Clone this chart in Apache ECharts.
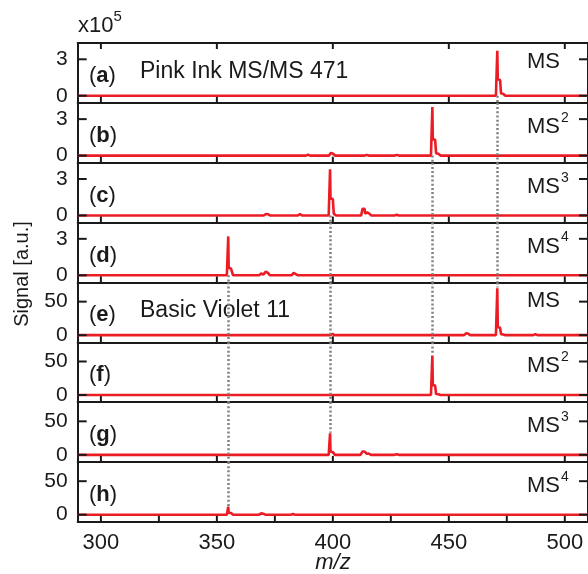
<!DOCTYPE html>
<html>
<head>
<meta charset="utf-8">
<script src="https://cdn.jsdelivr.net/npm/echarts@6/dist/echarts.min.js"></script>
<style>html,body{margin:0;padding:0;background:#fff}#c{width:588px;height:574px;background:#fff}</style>
</head>
<body>
<div id="c"></div>
<script>
// ---- data ----
const xRange = [290, 510];
const xTickValues = [300, 350, 400, 450, 500];
const xTickValuesFine = [300, 325, 350, 375, 400, 425, 450, 475, 500];
const panelLetters = ['a', 'b', 'c', 'd', 'e', 'f', 'g', 'h'];
const msOrders = ['', '2', '3', '4', '', '2', '3', '4'];
const yTicksInk = [0, 3];          // x10^5
const yTicksViolet = [0, 50];
const yRangeInk = [-0.585, 4.34];
const yRangeViolet = [-10.6, 78.7];
const sampleNames = ['Pink Ink MS/MS 471', 'Basic Violet 11'];

// spectra [m/z, signal]
const specA = [[290,0],[470.3,0],[470.9,3.7],[471.1,1.35],[472.1,1.3],[472.5,0.2],[473.5,0.15],[474.4,0],[510,0]];
const specB = [[290,0],[388.4,0],[389.3,0.08],[390.2,0],[398.3,0],[399.2,0.22],[400.1,0.15],[401,0],[413.7,0],[414.6,0.06],[415.5,0],[426.7,0],[427.6,0.06],[428.5,0],[442.3,0],[442.9,4.0],[443.1,1.35],[444.1,1.3],[444.5,0.2],[445.5,0.15],[446.4,0],[510,0]];
const specC = [[290,0],[370.2,0],[371.1,0.12],[372,0.1],[372.9,0],[384.9,0],[385.8,0.12],[386.7,0],[398.2,0],[398.8,3.8],[399,1.4],[400,1.35],[400.4,0.15],[401.4,0],[412.2,0],[412.8,0.55],[413.7,0.55],[413.9,0.15],[414.8,0.25],[415.7,0.15],[416.6,0],[426.6,0],[427.5,0.06],[428.4,0],[510,0]];
const specD = [[290,0],[354.3,0],[354.9,3.2],[355.1,0.6],[356.1,0.55],[357,0],[368.2,0],[369.1,0.15],[370,0.05],[371.1,0.3],[372,0.2],[372.9,0],[382.2,0],[383.1,0.2],[384,0.1],[384.9,0],[510,0]];
const specE = [[290,0],[398.9,0],[399.8,2],[400.7,0],[456.6,0],[457.5,3],[458.4,2],[459.3,0],[470.3,0],[470.9,70],[471.1,12],[472.1,11],[472.5,1.5],[473.5,1],[474.4,0],[486.4,0],[487.3,1.5],[488.2,0],[510,0]];
const specF = [[290,0],[442.3,0],[442.9,59],[443.1,15],[444.1,14],[444.5,1.5],[445.5,1],[446.4,0],[510,0]];
const specG = [[290,0],[398.2,0],[398.8,32],[399,5],[400,4],[400.9,0],[411.9,0],[412.8,5],[413.7,5],[414.6,1.5],[415.5,2],[416.4,0],[426.6,0],[427.5,1],[428.4,0],[510,0]];
const specH = [[290,0],[354.3,0],[354.9,12],[355.1,3],[356.1,2.5],[357,0],[368.2,0],[369.1,2],[370,1.5],[370.9,0],[381.9,0],[382.8,1],[383.7,0],[510,0]];
const spectra = [specA, specB, specC, specD, specE, specF, specG, specH];

// dotted connectors: m/z, start panel (from baseline), end panel, end signal (peak top)
const connectorMz = [471, 443, 399, 355];
const connectorFrom = [0, 1, 2, 3];
const connectorTo = [4, 5, 6, 7];
const connectorEnd = [70, 59, 32, 12];

// ---- layout ----
const FONT = 'Liberation Sans, Arial, sans-serif';
const INK = '#1a1a1a';
const RED = '#ec1c24';
const GRAY = '#808080';
const TOP = 43, PH = 59.85, LEFT = 77.7;

// tick marks drawn as small filled bars at tick values mapped through the axes
function tickRenderer(params, api) {
  const cs = params.coordSys;
  const kind = api.value(2);
  const p = api.coord([api.value(0), api.value(1)]);
  const style = {fill: INK};
  if (kind === 0) {
    const yb = cs.y + cs.height;
    return {type: 'rect', shape: {x: p[0] - 1, y: yb - 6, width: 2, height: 6}, style: style};
  }
  if (kind === 2) {
    return {type: 'rect', shape: {x: p[0] - 1, y: cs.y, width: 2, height: 6}, style: style};
  }
  return {type: 'group', children: [
    {type: 'rect', shape: {x: cs.x, y: p[1] - 1, width: 9, height: 2}, style: style},
    {type: 'rect', shape: {x: cs.x + cs.width - 9, y: p[1] - 1, width: 9, height: 2}, style: style}
  ]};
}

const grids = [], xAxes = [], yAxes = [], series = [], graphics = [];
for (let i = 0; i < 8; i++) {
  const ink = i < 4;
  const yr = ink ? yRangeInk : yRangeViolet;
  const yt = ink ? yTicksInk : yTicksViolet;
  const xt = i === 7 ? xTickValuesFine : xTickValues;
  grids.push({left: LEFT, right: 0, top: TOP + i * PH, height: PH});
  xAxes.push({
    type: 'value', gridIndex: i, min: xRange[0], max: xRange[1], position: 'bottom',
    axisLine: {show: true, onZero: false, lineStyle: {color: INK, width: 2}},
    axisTick: {show: false},
    axisLabel: {show: i === 7, customValues: xTickValues, fontSize: 22, color: INK, fontFamily: FONT, margin: 10},
    splitLine: {show: false}
  });
  yAxes.push({
    type: 'value', gridIndex: i, min: yr[0], max: yr[1], position: 'left',
    axisLine: {show: true, onZero: false, lineStyle: {color: INK, width: 2}},
    axisTick: {show: false},
    axisLabel: {show: true, customValues: yt, fontSize: 21, color: INK, fontFamily: FONT, margin: 10},
    splitLine: {show: false}
  });
  yAxes.push({
    type: 'value', gridIndex: i, min: yr[0], max: yr[1], position: 'right',
    axisLine: {show: true, onZero: false, lineStyle: {color: INK, width: 2}},
    axisTick: {show: false},
    axisLabel: {show: false},
    splitLine: {show: false}
  });
  // connector segments in this panel
  const segs = [];
  for (let k = 0; k < connectorMz.length; k++) {
    const m = connectorMz[k];
    if (i === connectorFrom[k]) segs.push([{coord: [m, 0]}, {coord: [m, yr[0]]}]);
    else if (i > connectorFrom[k] && i < connectorTo[k]) segs.push([{coord: [m, yr[1]]}, {coord: [m, yr[0]]}]);
    else if (i === connectorTo[k]) segs.push([{coord: [m, yr[1]]}, {coord: [m, connectorEnd[k] + 1]}]);
  }
  series.push({
    type: 'line', xAxisIndex: i, yAxisIndex: 2 * i, data: spectra[i],
    showSymbol: false, symbol: 'none',
    lineStyle: {color: RED, width: 2.6}, z: 3,
    markLine: {silent: true, symbol: ['none', 'none'], label: {show: false},
      lineStyle: {color: GRAY, width: 2.5, type: [2, 2.2]}, z: 4, animation: false, data: segs}
  });
  const tickData = [];
  xt.forEach(v => tickData.push([v, yr[0], 0]));
  if (i === 0) xTickValues.forEach(v => tickData.push([v, yr[1], 2]));
  yt.forEach(v => tickData.push([xRange[0], v, 1]));
  series.push({
    type: 'custom', xAxisIndex: i, yAxisIndex: 2 * i, data: tickData, silent: true, z: 20,
    encode: {x: 0, y: 1}, renderItem: tickRenderer
  });
  // panel letter
  graphics.push({type: 'text', left: 89, top: TOP + i * PH + 22,
    style: {text: '{n|(}{b|' + panelLetters[i] + '}{n|)}', fill: INK,
      rich: {n: {fontSize: 22, fontFamily: FONT, fill: INK}, b: {fontSize: 22, fontFamily: FONT, fontWeight: 'bold', fill: INK}}}});
  // MS order label
  const msText = msOrders[i] ? '{m|MS}{s|' + msOrders[i] + '}' : '{m|MS}';
  graphics.push({type: 'text', left: 527, top: TOP + i * PH + 8,
    style: {text: msText, fill: INK,
      rich: {m: {fontSize: 22, fontFamily: FONT, fill: INK, lineHeight: 27, verticalAlign: 'bottom'},
             s: {fontSize: 14, fontFamily: FONT, fill: INK, lineHeight: 27, verticalAlign: 'top', padding: [0, 0, 12, 1]}}}});
}
xAxes.push({
  type: 'value', gridIndex: 0, min: xRange[0], max: xRange[1], position: 'top',
  axisLine: {show: true, onZero: false, lineStyle: {color: INK, width: 2}},
  axisTick: {show: false}, axisLabel: {show: false}, splitLine: {show: false}
});

graphics.push({type: 'text', left: 140, top: TOP + 17,
  style: {text: sampleNames[0], fontSize: 23, fontFamily: FONT, fill: INK}});
graphics.push({type: 'text', left: 140, top: TOP + 4 * PH + 17,
  style: {text: sampleNames[1], fontSize: 23, fontFamily: FONT, fill: INK}});
graphics.push({type: 'text', left: 78, top: 9,
  style: {text: '{m|x10}{s|5}', fill: INK,
    rich: {m: {fontSize: 22, fontFamily: FONT, fill: INK, lineHeight: 28, verticalAlign: 'bottom'},
           s: {fontSize: 15, fontFamily: FONT, fill: INK, lineHeight: 28, verticalAlign: 'top', padding: [0, 0, 12, 0]}}}});
graphics.push({type: 'text', x: 333, y: 563,
  style: {text: 'm/z', fontSize: 22, fontStyle: 'italic', fontFamily: FONT, fill: INK, align: 'center', verticalAlign: 'middle'}});
graphics.push({type: 'text', x: 22, y: 274, rotation: Math.PI / 2,
  style: {text: 'Signal [a.u.]', fontSize: 20, fontFamily: FONT, fill: INK, align: 'center', verticalAlign: 'middle'}});

const chart = echarts.init(document.getElementById('c'), null, {renderer: 'canvas'});
chart.setOption({
  animation: false,
  grid: grids, xAxis: xAxes, yAxis: yAxes, series: series, graphic: graphics
});
</script>
</body>
</html>
